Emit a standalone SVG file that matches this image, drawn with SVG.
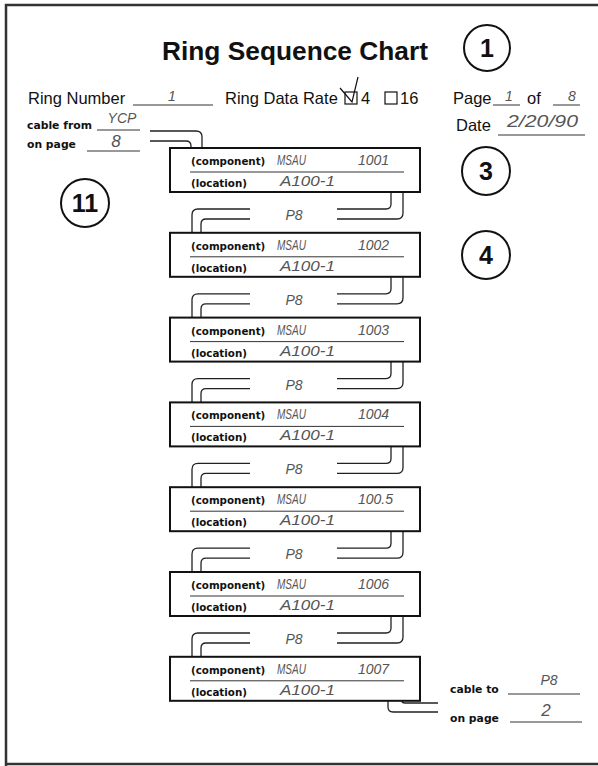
<svg xmlns="http://www.w3.org/2000/svg" xmlns:xlink="http://www.w3.org/1999/xlink" width="598" height="766" viewBox="0 0 598 766">
<style>
.frame{fill:none;stroke:#333;stroke-width:2.5}
.ln{fill:none;stroke:#222;stroke-width:1.3}
.box{fill:#fff;stroke:#111;stroke-width:2}
.ul{stroke:#333;stroke-width:1}
.title{font-family:"Liberation Sans",Arial,sans-serif;font-weight:bold;font-size:25px;fill:#111}
.lbl{font-family:"Liberation Sans",Arial,sans-serif;font-size:16.5px;fill:#111}
.sm{font-family:"DejaVu Sans",sans-serif;font-weight:bold;font-size:10.3px;fill:#111}
.sm2{font-family:"DejaVu Sans",sans-serif;font-weight:bold;font-size:10.8px;fill:#111}
.hw{font-family:"Liberation Sans",Arial,sans-serif;font-style:italic;font-size:14px;fill:#555}
.hwl{font-family:"Liberation Sans",Arial,sans-serif;font-style:italic;font-size:17px;fill:#555}
.circ{fill:none;stroke:#111;stroke-width:2}
.cn{font-family:"Liberation Sans",Arial,sans-serif;font-weight:bold;font-size:25px;fill:#111;text-anchor:middle}
.chk{fill:none;stroke:#111;stroke-width:1.2}
</style>
<defs>
<path id="link" class="ln" d="M391,192 V204 Q391,209 386,209 H337 M403,192 V213 Q403,219 397,219 H337 M250,209 H198 Q192,209 192,215 V233 M250,219 H206 Q201,219 201,224 V233"/>
</defs>
<rect width="598" height="766" fill="#fff"/>
<path class="frame" d="M6,766 V5 H600 M6,764 H600"/>

<g id="header">
<text class="title" x="162" y="60" textLength="266" lengthAdjust="spacingAndGlyphs">Ring Sequence Chart</text>
<text class="lbl" x="28" y="104">Ring Number</text>
<line class="ul" x1="133" y1="105" x2="213" y2="105"/>
<text class="hw" x="172" y="101" text-anchor="middle">1</text>
<text class="lbl" x="225" y="104">Ring Data Rate</text>
<rect class="chk" x="345" y="92" width="12" height="12"/>
<path class="chk" d="M340,88 L352,102 L358,77"/>
<text class="lbl" x="361" y="104">4</text>
<rect class="chk" x="385" y="92" width="12" height="12"/>
<text class="lbl" x="400" y="104">16</text>
<text class="lbl" x="453" y="104">Page</text>
<line class="ul" x1="493" y1="105" x2="520" y2="105"/>
<text class="hw" x="509" y="101" text-anchor="middle">1</text>
<text class="lbl" x="527" y="104">of</text>
<line class="ul" x1="553" y1="105" x2="580" y2="105"/>
<text class="hw" x="572" y="101" text-anchor="middle">8</text>
<text class="lbl" x="456" y="131">Date</text>
<line class="ul" x1="498" y1="135" x2="585" y2="135"/>
<text class="hwl" x="507" y="127" textLength="71" lengthAdjust="spacingAndGlyphs">2/20/90</text>
<text class="sm2" x="27" y="129">cable from</text>
<line class="ul" x1="97" y1="130" x2="140" y2="130"/>
<text class="hw" x="122" y="123" text-anchor="middle">YCP</text>
<text class="sm2" x="27" y="148">on page</text>
<line class="ul" x1="87" y1="151" x2="140" y2="151"/>
<text class="hwl" x="116" y="147" text-anchor="middle">8</text>
</g>

<g id="callout-1"><circle class="circ" cx="487" cy="48" r="23"/><text class="cn" x="487" y="57">1</text></g>
<g id="callout-3"><circle class="circ" cx="486" cy="171" r="24"/><text class="cn" x="486" y="180">3</text></g>
<g id="callout-4"><circle class="circ" cx="486" cy="255" r="24"/><text class="cn" x="486" y="264">4</text></g>
<g id="callout-11"><circle class="circ" cx="85" cy="203" r="24"/><text class="cn" x="85" y="212">11</text></g>

<g id="connectors">
<path class="ln" d="M150,131 H196 Q202,131 202,137 V148 M150,141 H186 Q191,141 191,146 V148"/>
<use xlink:href="#link" href="#link"/>
<use xlink:href="#link" href="#link" y="84.8"/>
<use xlink:href="#link" href="#link" y="169.6"/>
<use xlink:href="#link" href="#link" y="254.4"/>
<use xlink:href="#link" href="#link" y="339.2"/>
<use xlink:href="#link" href="#link" y="424"/>
<path class="ln" d="M402,700 V701 Q402,703 405,703 H438 M388,700 V707 Q388,712 393,712 H438"/>
</g>

<g id="labels-link">
<text class="hw" x="294" y="220" text-anchor="middle">P8</text>
<text class="hw" x="294" y="304.8" text-anchor="middle">P8</text>
<text class="hw" x="294" y="389.6" text-anchor="middle">P8</text>
<text class="hw" x="294" y="474.4" text-anchor="middle">P8</text>
<text class="hw" x="294" y="559.2" text-anchor="middle">P8</text>
<text class="hw" x="294" y="644" text-anchor="middle">P8</text>
</g>

<g id="node-1">
<rect class="box" x="170" y="148" width="250" height="44"/>
<line class="ul" x1="190" y1="172" x2="404" y2="172"/>
<text class="sm" x="191" y="165">(component)</text>
<text class="sm" x="191" y="187">(location)</text>
<text class="hw" x="277" y="165" textLength="29" lengthAdjust="spacingAndGlyphs">MSAU</text>
<text class="hw" x="358" y="165">1001</text>
<text class="hw" x="280" y="186" textLength="55" lengthAdjust="spacingAndGlyphs">A100-1</text>
</g>
<g id="node-2" transform="translate(0,84.8)">
<rect class="box" x="170" y="148" width="250" height="44"/>
<line class="ul" x1="190" y1="172" x2="404" y2="172"/>
<text class="sm" x="191" y="165">(component)</text>
<text class="sm" x="191" y="187">(location)</text>
<text class="hw" x="277" y="165" textLength="29" lengthAdjust="spacingAndGlyphs">MSAU</text>
<text class="hw" x="358" y="165">1002</text>
<text class="hw" x="280" y="186" textLength="55" lengthAdjust="spacingAndGlyphs">A100-1</text>
</g>
<g id="node-3" transform="translate(0,169.6)">
<rect class="box" x="170" y="148" width="250" height="44"/>
<line class="ul" x1="190" y1="172" x2="404" y2="172"/>
<text class="sm" x="191" y="165">(component)</text>
<text class="sm" x="191" y="187">(location)</text>
<text class="hw" x="277" y="165" textLength="29" lengthAdjust="spacingAndGlyphs">MSAU</text>
<text class="hw" x="358" y="165">1003</text>
<text class="hw" x="280" y="186" textLength="55" lengthAdjust="spacingAndGlyphs">A100-1</text>
</g>
<g id="node-4" transform="translate(0,254.4)">
<rect class="box" x="170" y="148" width="250" height="44"/>
<line class="ul" x1="190" y1="172" x2="404" y2="172"/>
<text class="sm" x="191" y="165">(component)</text>
<text class="sm" x="191" y="187">(location)</text>
<text class="hw" x="277" y="165" textLength="29" lengthAdjust="spacingAndGlyphs">MSAU</text>
<text class="hw" x="358" y="165">1004</text>
<text class="hw" x="280" y="186" textLength="55" lengthAdjust="spacingAndGlyphs">A100-1</text>
</g>
<g id="node-5" transform="translate(0,339.2)">
<rect class="box" x="170" y="148" width="250" height="44"/>
<line class="ul" x1="190" y1="172" x2="404" y2="172"/>
<text class="sm" x="191" y="165">(component)</text>
<text class="sm" x="191" y="187">(location)</text>
<text class="hw" x="277" y="165" textLength="29" lengthAdjust="spacingAndGlyphs">MSAU</text>
<text class="hw" x="358" y="165">100.5</text>
<text class="hw" x="280" y="186" textLength="55" lengthAdjust="spacingAndGlyphs">A100-1</text>
</g>
<g id="node-6" transform="translate(0,424)">
<rect class="box" x="170" y="148" width="250" height="44"/>
<line class="ul" x1="190" y1="172" x2="404" y2="172"/>
<text class="sm" x="191" y="165">(component)</text>
<text class="sm" x="191" y="187">(location)</text>
<text class="hw" x="277" y="165" textLength="29" lengthAdjust="spacingAndGlyphs">MSAU</text>
<text class="hw" x="358" y="165">1006</text>
<text class="hw" x="280" y="186" textLength="55" lengthAdjust="spacingAndGlyphs">A100-1</text>
</g>
<g id="node-7" transform="translate(0,508.8)">
<rect class="box" x="170" y="148" width="250" height="44"/>
<line class="ul" x1="190" y1="172" x2="404" y2="172"/>
<text class="sm" x="191" y="165">(component)</text>
<text class="sm" x="191" y="187">(location)</text>
<text class="hw" x="277" y="165" textLength="29" lengthAdjust="spacingAndGlyphs">MSAU</text>
<text class="hw" x="358" y="165">1007</text>
<text class="hw" x="280" y="186" textLength="55" lengthAdjust="spacingAndGlyphs">A100-1</text>
</g>

<g id="footer">
<text class="sm2" x="450" y="693">cable to</text>
<line class="ul" x1="508" y1="694" x2="580" y2="694"/>
<text class="hw" x="549" y="685" text-anchor="middle">P8</text>
<text class="sm2" x="450" y="722">on page</text>
<line class="ul" x1="510" y1="722" x2="582" y2="722"/>
<text class="hwl" x="546" y="716" text-anchor="middle">2</text>
</g>
</svg>
